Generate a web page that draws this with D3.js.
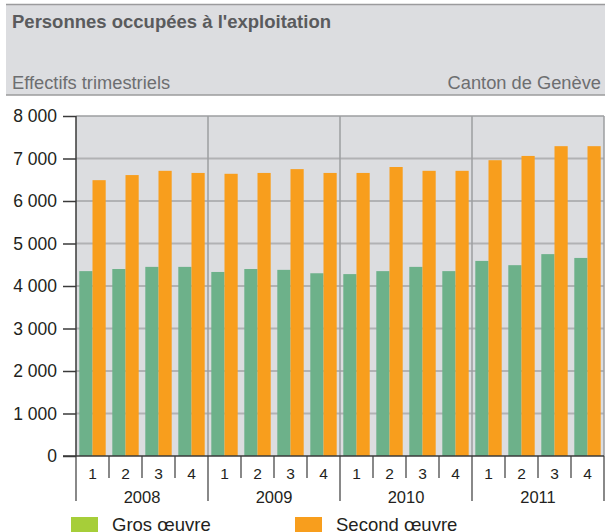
<!DOCTYPE html>
<html><head><meta charset="utf-8">
<script src="https://cdn.jsdelivr.net/npm/d3@7"></script>
<style>
html,body{margin:0;padding:0;background:#fff;}
svg{display:block;font-family:"Liberation Sans",Arial,sans-serif;}
</style></head>
<body><svg id="c" width="605" height="532"></svg>
<script>
const years = ["2008","2009","2010","2011"];
const quarters = ["1","2","3","4"];
const seriesNames = ["Gros œuvre","Second œuvre"];
const grosOeuvre = [4350,4400,4450,4450, 4330,4400,4380,4300, 4280,4350,4450,4350, 4590,4490,4750,4660];
const secondOeuvre = [6490,6610,6710,6660, 6640,6660,6750,6660, 6660,6800,6710,6710, 6960,7060,7290,7290];
const yTicks = [0,1000,2000,3000,4000,5000,6000,7000,8000];
const barColors = ["#6db18a","#f89e1d"];
const legendColors = ["#a6ce39","#f89e1d"];

const svg = d3.select("#c");
const L = 76, R = 604, T = 116, B = 456;

// header
svg.append("rect").attr("x",6).attr("y",4).attr("width",599).attr("height",91).attr("fill","#dcdde0");
svg.append("line").attr("x1",6).attr("x2",605).attr("y1",4.5).attr("y2",4.5).attr("stroke","#9b9b9d").attr("stroke-width",1.5);
svg.append("line").attr("x1",6).attr("x2",605).attr("y1",95).attr("y2",95).attr("stroke","#9b9b9d").attr("stroke-width",1.5);
svg.append("text").attr("x",12).attr("y",28).attr("font-size",18.5).attr("font-weight","bold").attr("fill","#5a5b5d").text("Personnes occupées à l'exploitation");
svg.append("text").attr("x",12).attr("y",89).attr("font-size",18.3).attr("fill","#6d6e70").text("Effectifs trimestriels");
svg.append("text").attr("x",601).attr("y",89).attr("font-size",18.3).attr("fill","#6d6e70").attr("text-anchor","end").text("Canton de Genève");

const labels = [];
years.forEach(y=>quarters.forEach(q=>labels.push(y+"-"+q)));

const y = d3.scaleLinear().domain([0,8000]).range([B,T]);
const x = d3.scaleBand().domain(labels).range([L,R]).paddingInner(0.2).paddingOuter(0.1);
const xs = d3.scaleBand().domain(seriesNames).range([0,x.bandwidth()]);
const xYear = d3.scaleBand().domain(years).range([L,R]);

// plot bg
svg.append("rect").attr("x",L).attr("y",T).attr("width",R-L).attr("height",B-T).attr("fill","#dcdde0");

// grid
svg.append("g").selectAll("line").data(yTicks.filter(d=>d>0 && d<8000)).join("line")
  .attr("x1",L).attr("x2",R).attr("y1",d=>y(d)).attr("y2",d=>y(d))
  .attr("stroke","#b1b2b4").attr("stroke-width",2);
svg.append("line").attr("x1",L).attr("x2",R).attr("y1",T).attr("y2",T).attr("stroke","#9d9ea0").attr("stroke-width",1.5);
// year separators
svg.append("g").selectAll("line").data(years.slice(1)).join("line")
  .attr("x1",d=>xYear(d)).attr("x2",d=>xYear(d)).attr("y1",T).attr("y2",B)
  .attr("stroke","#9d9ea0").attr("stroke-width",1.5);
svg.append("line").attr("x1",R).attr("x2",R).attr("y1",T).attr("y2",B).attr("stroke","#9d9ea0").attr("stroke-width",1.5);

// bars
const data = labels.map((l,i)=>({l, v:[grosOeuvre[i],secondOeuvre[i]]}));
const g = svg.append("g").selectAll("g").data(data).join("g").attr("transform",d=>`translate(${x(d.l)},0)`);
g.selectAll("rect").data(d=>d.v.map((v,k)=>({k,v}))).join("rect")
  .attr("x",d=>xs(seriesNames[d.k])).attr("width",xs.bandwidth())
  .attr("y",d=>y(d.v)).attr("height",d=>B-y(d.v)).attr("fill",d=>barColors[d.k]);

// y axis
const yAxis = d3.axisLeft(y).tickValues(yTicks).tickSize(13).tickPadding(6)
  .tickFormat(d=>d3.format(",")(d).replace(/,/g," "));
const ya = svg.append("g").attr("transform",`translate(${L},0)`).call(yAxis);
ya.select(".domain").remove();
ya.selectAll(".tick line").attr("stroke","#3a3a3a").attr("stroke-width",1.5);
ya.selectAll(".tick text").attr("font-size",17.5).attr("fill","#231f20").attr("font-family","Liberation Sans, Arial, sans-serif");
svg.append("line").attr("x1",L).attr("x2",L).attr("y1",T).attr("y2",B).attr("stroke","#3a3a3a").attr("stroke-width",1.5);
svg.append("line").attr("x1",63).attr("x2",R).attr("y1",B).attr("y2",B).attr("stroke","#3a3a3a").attr("stroke-width",1.5);

// x axis quarters
const qStep = x.step();
svg.append("g").selectAll("line").data(labels).join("line")
  .attr("x1",d=>x(d)-x.paddingOuter()*qStep).attr("x2",d=>x(d)-x.paddingOuter()*qStep)
  .attr("y1",B).attr("y2",(d,i)=> i%4===0 ? 501 : 478)
  .attr("stroke","#3a3a3a").attr("stroke-width",1.2);
svg.append("line").attr("x1",R).attr("x2",R).attr("y1",B).attr("y2",501).attr("stroke","#3a3a3a").attr("stroke-width",1.2);
svg.append("g").selectAll("text").data(labels).join("text")
  .attr("x",d=>x(d)+x.bandwidth()/2).attr("y",479).attr("text-anchor","middle")
  .attr("font-size",15.5).attr("fill","#231f20").text(d=>d.split("-")[1]);
svg.append("g").selectAll("text").data(years).join("text")
  .attr("x",d=>xYear(d)+xYear.bandwidth()/2).attr("y",503).attr("text-anchor","middle")
  .attr("font-size",16.5).attr("fill","#231f20").text(d=>d);

// legend
const legX = [71,295];
const lg = svg.append("g").selectAll("g").data(seriesNames).join("g");
lg.append("rect").attr("x",(d,i)=>legX[i]).attr("y",517).attr("width",27).attr("height",16).attr("fill",(d,i)=>legendColors[i]);
lg.append("text").attr("x",(d,i)=>legX[i]+41).attr("y",531).attr("font-size",18.5).attr("fill","#231f20").text(d=>d);
</script></body></html>
